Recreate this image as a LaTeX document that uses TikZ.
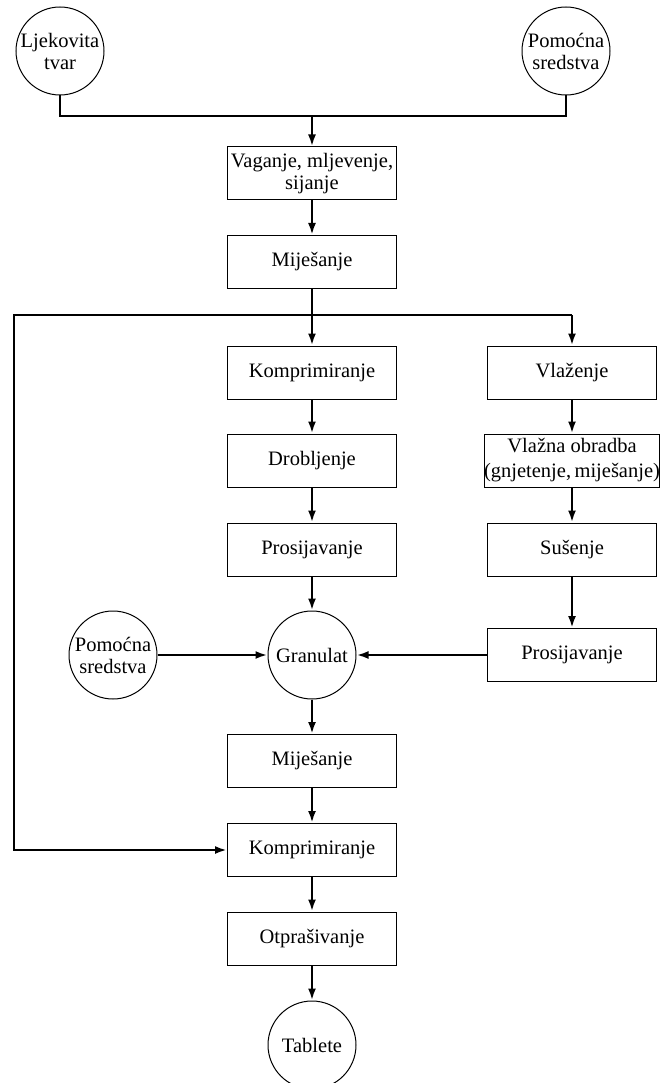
\documentclass[tikz,border=0pt]{standalone}
\usepackage{fontspec}
\setmainfont{Liberation Serif}
\usetikzlibrary{arrows.meta}
\begin{document}
\begin{tikzpicture}[x=1pt,y={(0pt,-1pt)},
  txt/.style={font=\fontsize{20.5}{22}\selectfont},
  box/.style={draw, line width=1pt, minimum width=169pt, minimum height=53pt, inner sep=0pt, align=center, txt},
  disc/.style={draw, circle, line width=1pt, minimum size=88pt, inner sep=0pt, align=center, txt},
  conn/.style={line width=2.9pt},
  arr/.style={conn, -{Latex[length=12pt,width=8pt]}}]
\fill[white] (0,0) rectangle (669,1083);
\useasboundingbox (0,0) rectangle (669,1083);
% nodes
\node[disc] (lj) at (60,51) {Ljekovita\\tvar};
\node[disc] (pt) at (566,51) {Pomoćna\\sredstva};
\node[box] (vag) at (312,173.5) {Vaganje, mljevenje,\\sijanje};
\node[box] (mix1) at (312,262) {Miješanje};
\node[box] (komp1) at (312,372.5) {Komprimiranje};
\node[box] (drob) at (312,460.5) {Drobljenje};
\node[box] (pros1) at (312,549.5) {Prosijavanje};
\node[box] (vlaz) at (572,372.5) {Vlaženje};
\node[box, font=\fontsize{20.5}{25}\selectfont] (vobr) at (572,460.5) {Vlažna obradba\\(gnjetenje,\,miješanje)};
\node[box] (sus) at (572,549.5) {Sušenje};
\node[box] (pros2) at (572,655) {Prosijavanje};
\node[disc] (gran) at (312,655) {Granulat};
\node[disc] (pom) at (113,655) {Pomoćna\\sredstva};
\node[box] (mix2) at (312,761) {Miješanje};
\node[box] (komp2) at (312,850) {Komprimiranje};
\node[box] (otp) at (312,938.5) {Otprašivanje};
\node[disc] (tab) at (312,1045) {Tablete};
% junction points
\coordinate (tl) at (60,116);
\coordinate (tr) at (566,116);
\coordinate (tm) at (312,116);
\coordinate (jl) at (14,315);
\coordinate (jm) at (312,315);
\coordinate (jr) at (572,315);
% connectors
\draw[conn] (lj.south) -- (tl) -- (tr) -- (pt.south);
\draw[arr] (tm) -- (vag.north);
\draw[arr] (vag) -- (mix1);
\draw[conn] (mix1.south) -- (jm);
\draw[arr] (jr) -- (jl) |- (komp2.west);
\draw[arr] (jm) -- (komp1.north);
\draw[arr] (jr) -- (vlaz.north);
\draw[arr] (komp1) -- (drob);
\draw[arr] (drob) -- (pros1);
\draw[arr] (pros1) -- (gran);
\draw[arr] (vlaz) -- (vobr);
\draw[arr] (vobr) -- (sus);
\draw[arr] (sus) -- (pros2);
\draw[arr] (pom) -- (gran);
\draw[arr] (pros2) -- (gran);
\draw[arr] (gran) -- (mix2);
\draw[arr] (mix2) -- (komp2);
\draw[arr] (komp2) -- (otp);
\draw[arr] (otp) -- (tab);
\end{tikzpicture}
\end{document}
